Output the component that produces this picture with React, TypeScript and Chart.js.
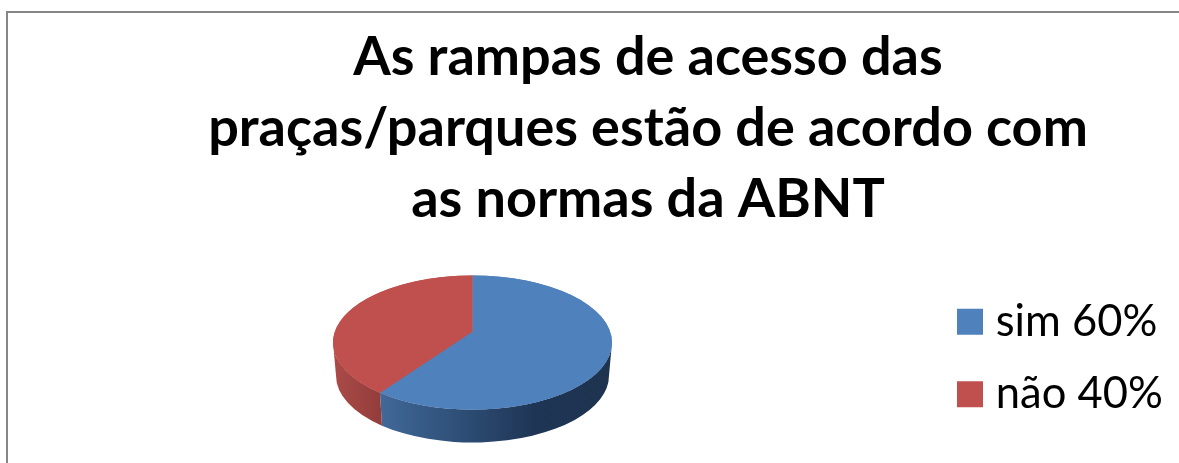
import React, { useEffect, useRef } from "react";
import { Chart, registerables } from "chart.js";

Chart.register(...registerables);

const categories = ["sim 60%", "não 40%"];
const seriesValues = [60, 40];
const sliceColors = ["#4f81bd", "#c0504d"];
const titleLines = ["As rampas de acesso das", "praças/parques estão de acordo com", "as normas da ABNT"];

const CX = 472.5;
const CY = 342.5;
const RX = 139.5;
const RY = 67;
const DEPTH = 33;
const APEX_OFFSET = 11;

// project a slice angle through the off-centre (perspective) apex onto the rim
function rimAngle(theta: number, ry: number) {
  const a = APEX_OFFSET / ry;
  const s = Math.sin(theta);
  const t = a * s + Math.sqrt(a * a * s * s - a * a + 1);
  return Math.atan2(-a + t * s, t * Math.cos(theta));
}

const pie3d = {
  id: "pie3d",
  beforeDraw(chart: any) {
    const c = chart.ctx;
    c.save();
    c.strokeStyle = "#868686";
    c.lineWidth = 2;
    c.beginPath();
    c.moveTo(7, 463);
    c.lineTo(7, 12);
    c.lineTo(1179, 12);
    c.stroke();
    c.restore();
  },
  afterLayout(chart: any) {
    chart.chartArea = { left: CX - RY, right: CX + RY, top: CY - RY, bottom: CY + RY, width: RY * 2, height: RY * 2 };
    const lg = chart.legend;
    const w = lg.width;
    const h = lg.height;
    lg.left = 966 - lg.options.labels.padding;
    lg.right = lg.left + w;
    lg.top = 271;
    lg.bottom = lg.top + h;
  },
  beforeDatasetsDraw(chart: any) {
    const c = chart.ctx;
    const arcs = chart.getDatasetMeta(0).data;
    // side wall
    arcs.forEach((arc: any, i: number) => {
      const a = rimAngle(arc.startAngle, RY);
      const b = rimAngle(arc.endAngle, RY);
      let from: number, to: number;
      if (i === 0) { from = 0; to = b; } else { from = a; to = Math.PI; }
      const g = c.createLinearGradient(CX - RX, 0, CX + RX, 0);
      if (i === 0) {
        g.addColorStop(0.16, "#41699a");
        g.addColorStop(0.45, "#2e4f77");
        g.addColorStop(0.72, "#1f3555");
        g.addColorStop(1, "#1d334f");
      } else {
        g.addColorStop(0, "#ab4b48");
        g.addColorStop(0.17, "#933d3b");
      }
      c.save();
      c.fillStyle = g;
      c.beginPath();
      c.ellipse(CX, CY, RX, RY, 0, from, to);
      c.ellipse(CX, CY + DEPTH, RX - 3, RY, 0, to, from, true);
      c.closePath();
      c.fill();
      c.restore();
    });
    c.save();
    c.translate(CX, CY);
    c.scale(RX / RY, 1);
    c.translate(-CX, -CY);
  },
  afterDatasetsDraw(chart: any) {
    const c = chart.ctx;
    c.restore();
    const arcs = chart.getDatasetMeta(0).data;
    // top face re-drawn with the apex moved by perspective
    [0, 1].forEach((i) => {
      const arc = arcs[i];
      c.save();
      c.fillStyle = sliceColors[i];
      c.beginPath();
      c.moveTo(CX, CY - APEX_OFFSET);
      c.ellipse(CX, CY, RX, RY, 0, rimAngle(arc.startAngle, RY), rimAngle(arc.endAngle, RY));
      c.closePath();
      c.fill();
      c.restore();
    });
  },
};

export default function App() {
  const ref = useRef<HTMLCanvasElement>(null);
  useEffect(() => {
    document.body.style.margin = "0";
    document.body.style.background = "#ffffff";
    const chart = new Chart(ref.current!, {
      type: "pie",
      data: {
        labels: categories,
        datasets: [{ data: seriesValues, backgroundColor: sliceColors, borderWidth: 0, clip: false } as any],
      },
      plugins: [pie3d],
      options: {
        responsive: false,
        animation: false,
        layout: { padding: { left: 117, right: 0, top: 0, bottom: 0 } },
        plugins: {
          tooltip: { enabled: false },
          title: {
            display: true,
            text: titleLines,
            color: "#000000",
            font: { family: "Lato", weight: "bold", size: 54, lineHeight: 1.315 },
            padding: { top: 22, bottom: 10 },
          },
          legend: {
            position: "right",
            align: "start",
            labels: {
              color: "#000000",
              font: { family: "Lato", size: 43.5 },
              boxWidth: 8,
              boxHeight: 8,
              padding: 29,
              generateLabels: () =>
                categories.map((text, i) => ({
                  text,
                  fillStyle: sliceColors[i],
                  strokeStyle: sliceColors[i],
                  lineWidth: 18,
                  fontColor: "#000000",
                  hidden: false,
                  index: i,
                })),
            },
          },
        },
      } as any,
    });
    return () => chart.destroy();
  }, []);
  return <canvas ref={ref} width={1179} height={463} style={{ display: "block" }} />;
}
